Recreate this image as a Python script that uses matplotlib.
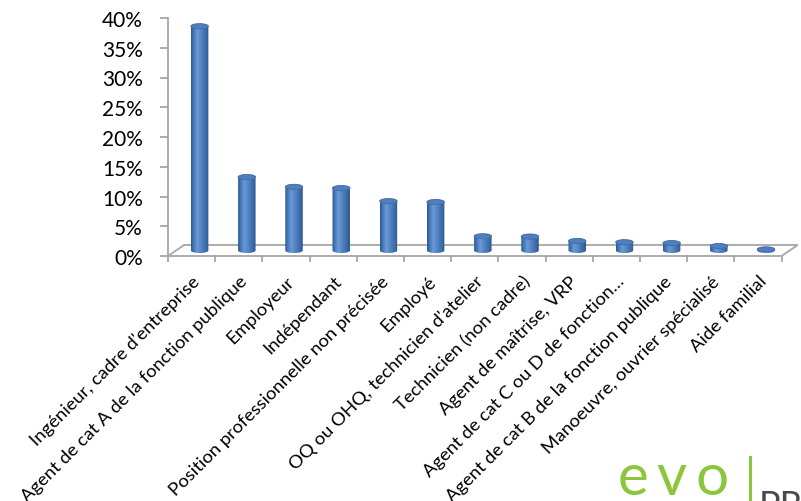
import numpy as np
import matplotlib
matplotlib.use("Agg")
import matplotlib.pyplot as plt
from matplotlib.path import Path
from matplotlib.patches import PathPatch, Polygon
from matplotlib.colors import LinearSegmentedColormap
from matplotlib.lines import Line2D

categories = [
    "Ingénieur, cadre d'entreprise",
    "Agent de cat A de la fonction publique",
    "Employeur",
    "Indépendant",
    "Position professionnelle non précisée",
    "Employé",
    "OQ ou OHQ, technicien d'atelier",
    "Technicien (non cadre)",
    "Agent de maîtrise, VRP",
    "Agent de cat C ou D de fonction…",
    "Agent de cat B de la fonction publique",
    "Manoeuvre, ouvrier spécialisé",
    "Aide familial",
]
values = [37.7, 12.35, 10.7, 10.5, 8.3, 8.15, 2.4, 2.35, 1.6, 1.4, 1.25, 0.75, 0.2]
yticks = [0, 5, 10, 15, 20, 25, 30, 35, 40]
ytick_labels = ["0%", "5%", "10%", "15%", "20%", "25%", "30%", "35%", "40%"]
logo_letters = ["e", "v", "o"]
logo_suffix = "PR"

plt.rcParams['font.family'] = ['Lato', 'DejaVu Sans']

W, H = 801, 502
fig = plt.figure(figsize=(W / 100, H / 100), dpi=100)

# geometry (data units)
n = len(categories)
depth_dx = 0.34      # categories
depth_dy = 1.85      # percent
bar_w = 0.37
ell_h = 0.85
xmin = -0.5
xmax = n - 0.5 + depth_dx

ax_left_px, ax_top_px, ax_bot_px = 168, 19, 257
px_per_cat = 47.2
ax_w_px = (xmax - xmin) * px_per_cat
ax = fig.add_axes([ax_left_px / W, (H - ax_bot_px) / H, ax_w_px / W,
                   (ax_bot_px - ax_top_px) / H])
ax.set_xlim(xmin, xmax)
ax.set_ylim(0, 40)

# floor
floor = Polygon([(xmin, 0), (n - 0.5, 0), (n - 0.5 + depth_dx, depth_dy),
                 (xmin + depth_dx, depth_dy)], closed=True,
                facecolor='white', edgecolor='#a6a6a6', linewidth=1.3,
                zorder=1, clip_on=False)
ax.add_patch(floor)

# tick marks on floor front edge
for k in range(n + 1):
    ax.plot([xmin + k, xmin + k], [0, -0.9], color='#a6a6a6', lw=1.3,
            clip_on=False, zorder=1)

cmap = LinearSegmentedColormap.from_list(
    'cyl', [(0.0, '#2b5890'), (0.12, '#3f70b0'), (0.35, '#6a9ad8'),
            (0.55, '#5686c4'), (0.85, '#3a69a6'), (1.0, '#2a548b')])
grad = np.linspace(0, 1, 256).reshape(1, -1)

t_low = np.linspace(np.pi, 2 * np.pi, 60)
t_full = np.linspace(0, 2 * np.pi, 120)
base = depth_dy / 2
for i, v in enumerate(values):
    cx = i + depth_dx / 2
    y0 = base
    y1 = base + v
    a = bar_w / 2
    b = ell_h / 2
    bx = cx + a * np.cos(t_low)
    by = y0 + b * np.sin(t_low)
    tx = (cx + a * np.cos(t_low))[::-1]
    ty = (y1 + b * np.sin(t_low))[::-1]
    verts = np.concatenate([np.column_stack([bx, by]),
                            np.column_stack([tx, ty]),
                            [[bx[0], by[0]]]])
    codes = [Path.MOVETO] + [Path.LINETO] * (len(verts) - 2) + [Path.CLOSEPOLY]
    body = PathPatch(Path(verts, codes), facecolor='none', edgecolor='none',
                     zorder=3)
    ax.add_patch(body)
    im = ax.imshow(grad, cmap=cmap, aspect='auto', zorder=3,
                   extent=(cx - a, cx + a, y0 - b, y1 + b), origin='lower',
                   interpolation='bilinear')
    im.set_clip_path(body)
    top = Polygon(np.column_stack([cx + a * np.cos(t_full),
                                   y1 + b * np.sin(t_full)]),
                  closed=True, facecolor='#4f7fbf', edgecolor='#3a66a0',
                  linewidth=0.6, zorder=4)
    ax.add_patch(top)

ax.set_xlim(xmin, xmax)
ax.set_ylim(0, 40)

for s in ['top', 'right', 'bottom']:
    ax.spines[s].set_visible(False)
ax.spines['left'].set_color('#a6a6a6')
ax.spines['left'].set_linewidth(1.3)
ax.set_yticks(yticks)
ax.set_yticklabels(ytick_labels, fontsize=15)
ax.tick_params(axis='y', direction='out', length=6, width=1.3,
               color='#a6a6a6', pad=12)
ax.set_xticks(range(n))
ax.set_xticklabels(categories, rotation=45, ha='right',
                   rotation_mode='anchor', fontsize=13.3)
ax.tick_params(axis='x', length=0, pad=12)
ax.patch.set_visible(False)

# logo
for letter, xp in zip(logo_letters, [618, 656, 696]):
    fig.text(xp / W, 1 - 495 / H, letter, color='#8cc63e', fontsize=42,
             ha='left', va='baseline')
fig.add_artist(Line2D([750 / W, 750 / W], [1 - 501 / H, 1 - 458 / H],
                      color='#8cc63e', lw=2.2))
fig.text(759 / W, 1 - 517 / H, logo_suffix, color='#4a4a4a', fontsize=26,
         ha='left', va='baseline')

fig.savefig('out.png', dpi=100)
